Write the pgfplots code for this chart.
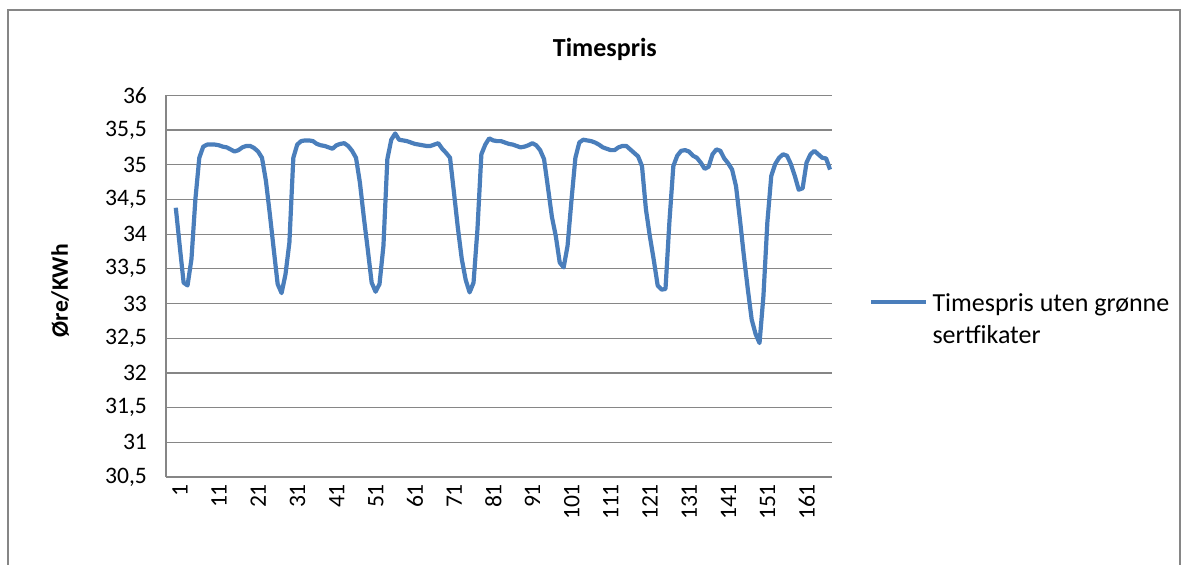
\documentclass[border=0pt]{standalone}
\usepackage{fontspec}
\setmainfont{Carlito}
\usepackage{pgfplots}
\pgfplotsset{compat=1.18}
\definecolor{linblue}{HTML}{4A7EBB}
\definecolor{gridgray}{HTML}{868686}
\begin{document}
\begin{tikzpicture}
\path[use as bounding box] (0,0) rectangle (594.5pt,282pt);
\draw[gridgray, line width=0.6pt] (4pt,-2pt) -- (4pt,277pt) -- (590pt,277pt) -- (590pt,-2pt);
\begin{axis}[
  at={(83pt,43.5pt)}, anchor=south west,
  scale only axis, width=333pt, height=190.85pt,
  xmin=0.5, xmax=170.5, ymin=30.5, ymax=36,
  xtick={1,11,21,31,41,51,61,71,81,91,101,111,121,131,141,151,161},
  ytick={30.5,31,31.5,32,32.5,33,33.5,34,34.5,35,35.5,36},
  ymajorgrids, major grid style={gridgray, line width=0.6pt},
  axis x line*=bottom, axis y line*=left,
  axis line style={gridgray, line width=0.6pt, -},
  major tick style={draw=none},
  /pgf/number format/use comma,
  /pgf/number format/assume math mode=true,
  ticklabel style={font=\fontsize{11.8}{13}\selectfont, text=black},
  yticklabel style={anchor=east, xshift=-6pt},
  xticklabel style={rotate=90, anchor=east, yshift=-6pt},
  title={Timespris},
  title style={at={(axis description cs:0.659,1.09)}, anchor=center, font=\bfseries\fontsize{13}{15}\selectfont},
  ylabel={Øre/KWh},
  ylabel style={at={(axis description cs:-0.159,0.488)}, anchor=center, font=\bfseries\fontsize{11.8}{13}\selectfont},
  legend style={at={(axis description cs:1.0555,0.504)}, anchor=north west, draw=none, fill=none,
    font=\fontsize{13}{16}\selectfont, inner sep=0pt},
  legend cell align=left,
  legend image code/.code={\draw[#1] (0pt,0pt) -- (27.5pt,0pt);},
]
\addplot[linblue, line width=2.1pt, line join=round] coordinates {
(3,34.38)(4,33.83)(5,33.30)(6,33.26)(7,33.64)(8,34.50)(9,35.10)(10,35.26)
(11,35.29)(12,35.29)(13,35.29)(14,35.28)(15,35.26)(16,35.25)(17,35.22)(18,35.19)(19,35.21)(20,35.25)
(21,35.27)(22,35.27)(23,35.24)(24,35.19)(25,35.10)(26,34.77)(27,34.29)(28,33.78)(29,33.28)(30,33.15)
(31,33.42)(32,33.88)(33,35.10)(34,35.29)(35,35.34)(36,35.35)(37,35.35)(38,35.34)(39,35.30)(40,35.28)
(41,35.27)(42,35.25)(43,35.23)(44,35.28)(45,35.30)(46,35.31)(47,35.27)(48,35.20)(49,35.10)(50,34.74)
(51,34.24)(52,33.78)(53,33.30)(54,33.17)(55,33.28)(56,33.83)(57,35.08)(58,35.36)(59,35.45)(60,35.36)
(61,35.35)(62,35.34)(63,35.32)(64,35.30)(65,35.29)(66,35.28)(67,35.27)(68,35.27)(69,35.29)(70,35.31)
(71,35.23)(72,35.17)(73,35.10)(74,34.60)(75,34.09)(76,33.64)(77,33.34)(78,33.16)(79,33.30)(80,34.07)
(81,35.15)(82,35.29)(83,35.38)(84,35.35)(85,35.34)(86,35.34)(87,35.32)(88,35.30)(89,35.29)(90,35.27)
(91,35.25)(92,35.26)(93,35.28)(94,35.31)(95,35.28)(96,35.21)(97,35.08)(98,34.67)(99,34.25)(100,33.97)
(101,33.59)(102,33.52)(103,33.83)(104,34.49)(105,35.10)(106,35.32)(107,35.36)(108,35.35)(109,35.34)(110,35.32)
(111,35.29)(112,35.25)(113,35.23)(114,35.21)(115,35.21)(116,35.25)(117,35.27)(118,35.27)(119,35.22)(120,35.17)
(121,35.12)(122,34.98)(123,34.36)(124,33.97)(125,33.63)(126,33.26)(127,33.20)(128,33.21)(129,34.18)(130,34.98)
(131,35.13)(132,35.20)(133,35.21)(134,35.19)(135,35.13)(136,35.10)(137,35.03)(138,34.94)(139,34.97)(140,35.15)
(141,35.22)(142,35.20)(143,35.09)(144,35.02)(145,34.93)(146,34.69)(147,34.21)(148,33.69)(149,33.21)(150,32.77)
(151,32.56)(152,32.43)(153,33.11)(154,34.17)(155,34.84)(156,35.01)(157,35.10)(158,35.15)(159,35.13)(160,35.01)
(161,34.84)(162,34.64)(163,34.66)(164,35.03)(165,35.15)(166,35.20)(167,35.15)(168,35.10)(169,35.09)(170,34.93)
};
\addlegendentry{\begin{tabular}[t]{@{}l@{}}Timespris uten grønne\\sertfikater\end{tabular}}
\end{axis}
\end{tikzpicture}
\end{document}
